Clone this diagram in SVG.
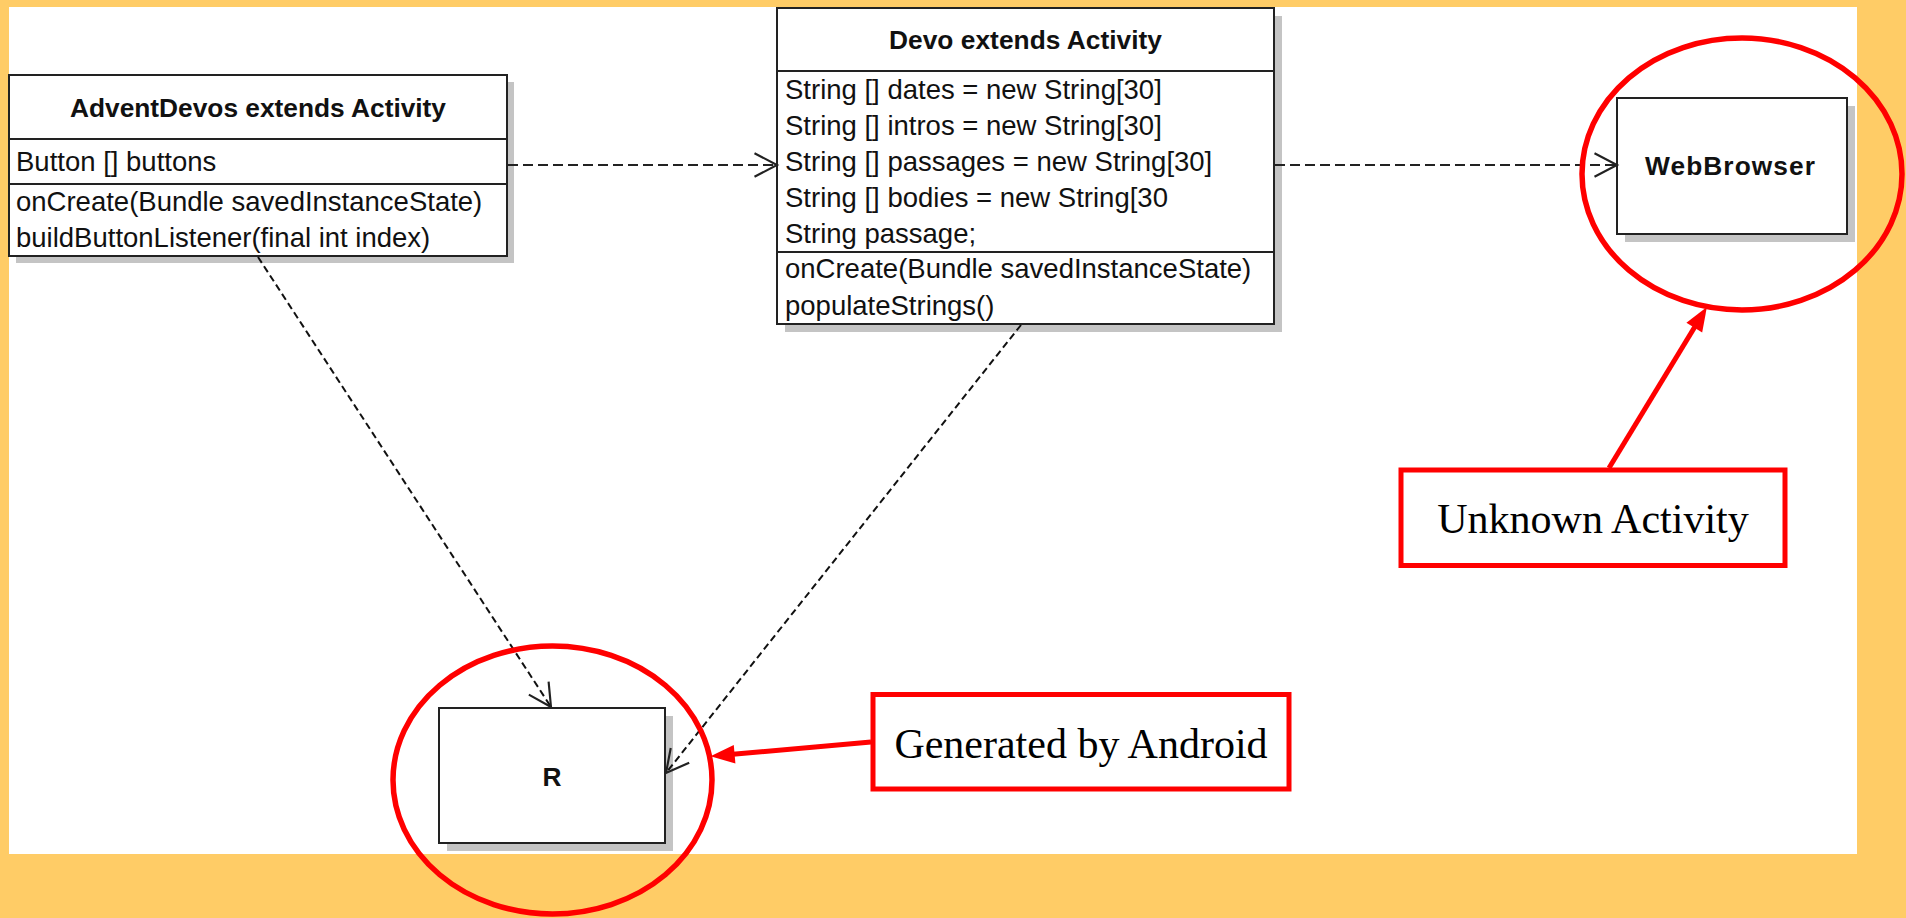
<svg xmlns="http://www.w3.org/2000/svg" width="1906" height="918" viewBox="0 0 1906 918">
<defs>
<style>
.box{fill:#fff;stroke:#222;stroke-width:2}
.shadow{fill:#c4c4c4;stroke:none}
.div{stroke:#222;stroke-width:2}
.title{font-family:"Liberation Sans",Arial,sans-serif;font-weight:bold;font-size:26.3px;fill:#111;text-anchor:middle}
.body{font-family:"Liberation Sans",Arial,sans-serif;font-size:27.5px;fill:#111}
.dep{fill:none;stroke:#222;stroke-width:2;stroke-dasharray:10 5}
.depd{fill:none;stroke:#111;stroke-width:2;stroke-dasharray:7 4}
.hl{fill:none;stroke:#ff0000;stroke-width:5.5}
.note{fill:#fff;stroke:#ff0000;stroke-width:5}
.notetext{font-family:"Liberation Serif","Times New Roman",serif;font-size:42px;fill:#000;text-anchor:middle}
.redline{fill:none;stroke:#ff0000;stroke-width:5}
</style>
<marker id="open" markerUnits="userSpaceOnUse" markerWidth="30" markerHeight="30" viewBox="-24 -14 28 28" refX="0" refY="0" orient="auto">
<path d="M-21,-11 L0,0 L-21,11" fill="none" stroke="#222" stroke-width="2"/>
</marker>
<marker id="redhead" markerUnits="userSpaceOnUse" markerWidth="30" markerHeight="30" viewBox="-6 -12 26 24" refX="0" refY="0" orient="auto">
<path d="M-4,-8 L17,0 L-4,8 Z" fill="#ff0000"/>
</marker>
</defs>

<rect x="0" y="0" width="1906" height="918" fill="#ffcc66"/>
<rect x="9" y="7" width="1848" height="847" fill="#ffffff"/>

<g id="node-adventdevos">
<rect class="shadow" x="16" y="82" width="498" height="181"/>
<rect class="box" x="9" y="75" width="498" height="181"/>
<line class="div" x1="9" y1="139" x2="507" y2="139"/>
<line class="div" x1="9" y1="184" x2="507" y2="184"/>
<text class="title" x="258" y="117" textLength="376" lengthAdjust="spacing">AdventDevos extends Activity</text>
<text class="body" x="16" y="171">Button [] buttons</text>
<text class="body" x="16" y="211">onCreate(Bundle savedInstanceState)</text>
<text class="body" x="16" y="247">buildButtonListener(final int index)</text>
</g>

<g id="node-devo">
<rect class="shadow" x="785" y="16" width="497" height="316"/>
<rect class="box" x="777" y="8" width="497" height="316"/>
<line class="div" x1="777" y1="71" x2="1274" y2="71"/>
<line class="div" x1="777" y1="252" x2="1274" y2="252"/>
<text class="title" x="1025.5" y="49" textLength="273" lengthAdjust="spacing">Devo extends Activity</text>
<text class="body" x="785" y="99">String [] dates = new String[30]</text>
<text class="body" x="785" y="135">String [] intros = new String[30]</text>
<text class="body" x="785" y="171">String [] passages = new String[30]</text>
<text class="body" x="785" y="207">String [] bodies = new String[30</text>
<text class="body" x="785" y="243">String passage;</text>
<text class="body" x="785" y="278">onCreate(Bundle savedInstanceState)</text>
<text class="body" x="785" y="315">populateStrings()</text>
</g>

<g id="node-webbrowser">
<rect class="shadow" x="1625" y="106" width="230" height="136"/>
<rect class="box" x="1617" y="98" width="230" height="136"/>
<text class="title" x="1730" y="175" textLength="170" lengthAdjust="spacing">WebBrowser</text>
</g>

<g id="node-r">
<rect class="shadow" x="447" y="716" width="226" height="135"/>
<rect class="box" x="439" y="708" width="226" height="135"/>
<text class="title" x="552" y="786">R</text>
</g>

<g id="connectors">
<line class="dep" x1="508" y1="165" x2="777" y2="165" marker-end="url(#open)"/>
<line class="dep" x1="1275" y1="165" x2="1617" y2="165" marker-end="url(#open)"/>
<line class="depd" x1="258" y1="257" x2="551" y2="707" marker-end="url(#open)"/>
<line class="depd" x1="1021" y1="325" x2="666" y2="773" marker-end="url(#open)"/>
</g>

<g id="highlights">
<ellipse class="hl" cx="552.5" cy="780" rx="159.5" ry="134"/>
<ellipse class="hl" cx="1742" cy="174" rx="160" ry="136"/>
</g>

<g id="note-generated">
<rect class="note" x="873" y="694.5" width="416" height="94.5"/>
<text class="notetext" x="1081" y="758">Generated by Android</text>
</g>

<g id="note-unknown">
<rect class="note" x="1401" y="470" width="384" height="95.5"/>
<text class="notetext" x="1593" y="533">Unknown Activity</text>
</g>

<g id="annotation-connectors">
<line class="redline" x1="871" y1="742" x2="730" y2="754.6" marker-end="url(#redhead)"/>
<line class="redline" x1="1609" y1="468" x2="1696.7" y2="323.7" marker-end="url(#redhead)"/>
</g>
</svg>
